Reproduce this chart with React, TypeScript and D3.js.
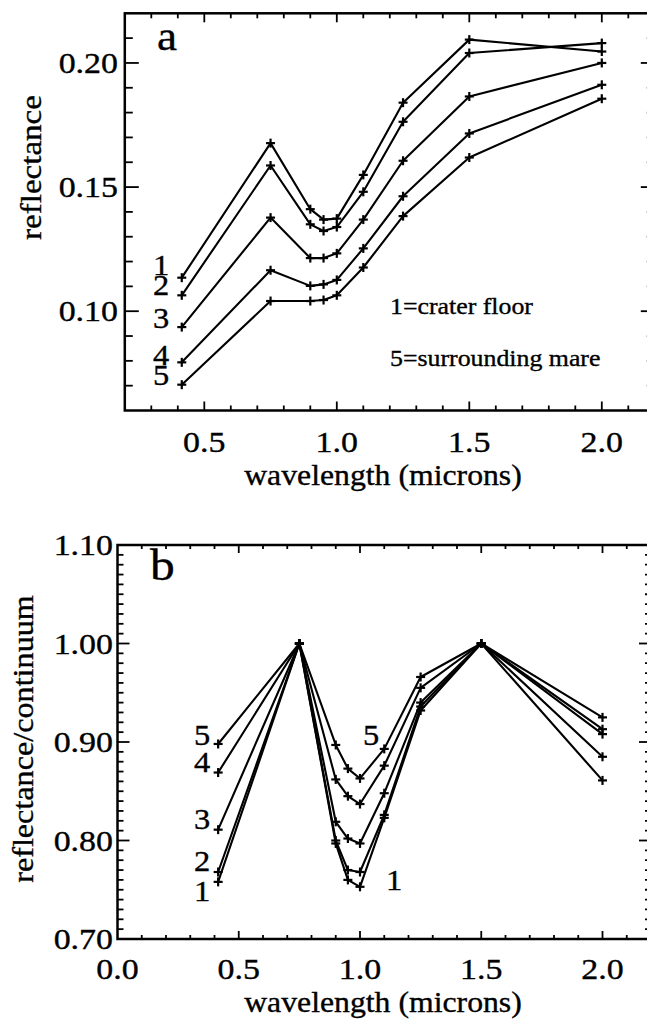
import React from "react";
import * as d3 from "d3";

// ---------- data ----------
const wavelengths = [0.415, 0.75, 0.9, 0.95, 1.0, 1.1, 1.25, 1.5, 2.0];

// panel a: reflectance
const refl1 = [0.1135, 0.1677, 0.1411, 0.1369, 0.1373, 0.1549, 0.184, 0.2094, 0.2046];
const refl2 = [0.1064, 0.1587, 0.135, 0.1323, 0.1339, 0.1481, 0.1763, 0.204, 0.208];
const refl3 = [0.0936, 0.1377, 0.1214, 0.1214, 0.1233, 0.1369, 0.1606, 0.1865, 0.2];
const refl4 = [0.0794, 0.1165, 0.1102, 0.1108, 0.1126, 0.1253, 0.1463, 0.1716, 0.1912];
const refl5 = [0.0704, 0.1041, 0.1041, 0.1045, 0.1064, 0.1176, 0.1383, 0.1619, 0.1856];

// panel b: reflectance / continuum
const cont1 = [0.758, 1.0, 0.797, 0.76, 0.753, 0.823, 0.932, 1.0, 0.861];
const cont2 = [0.768, 1.0, 0.8, 0.77, 0.768, 0.826, 0.936, 1.0, 0.885];
const cont3 = [0.811, 1.0, 0.819, 0.802, 0.797, 0.848, 0.94, 1.0, 0.908];
const cont4 = [0.869, 1.0, 0.862, 0.845, 0.837, 0.876, 0.955, 1.0, 0.913];
const cont5 = [0.898, 1.0, 0.897, 0.873, 0.863, 0.893, 0.966, 1.0, 0.925];

const seriesA = [refl1, refl2, refl3, refl4, refl5];
const seriesB = [cont1, cont2, cont3, cont4, cont5];
const seriesNames = ["1", "2", "3", "4", "5"];

const xTicksA = [0.5, 1.0, 1.5, 2.0];
const xTickLabelsA = ["0.5", "1.0", "1.5", "2.0"];
const yTicksA = [0.1, 0.15, 0.2];
const yTickLabelsA = ["0.10", "0.15", "0.20"];

const xTicksB = [0.0, 0.5, 1.0, 1.5, 2.0];
const xTickLabelsB = ["0.0", "0.5", "1.0", "1.5", "2.0"];
const yTicksB = [0.7, 0.8, 0.9, 1.0, 1.1];
const yTickLabelsB = ["0.70", "0.80", "0.90", "1.00", "1.10"];

const legendLines = ["1=crater floor", "5=surrounding mare"];

// ---------- layout ----------
const W = 647;
const H = 1024;
const FONT = "'Liberation Serif', 'Times New Roman', serif";

const xA = d3.scaleLinear().domain([0.2, 2.2]).range([124.8, 654.8]);
const yA = d3.scaleLinear().domain([0.06, 0.22]).range([410.5, 13.3]);
const xB = d3.scaleLinear().domain([0.0, 2.2]).range([117.5, 651]);
const yB = d3.scaleLinear().domain([0.7, 1.1]).range([939, 545]);

function Txt({ x, y, children, size = 29, sx = 1.12, rotate = 0, anchor = "start" }: any) {
  return (
    <text
      transform={`translate(${x},${y}) rotate(${rotate}) scale(${sx},1)`}
      fontSize={size}
      fontFamily={FONT}
      textAnchor={anchor}
      fill="#000"
      stroke="#000"
      strokeWidth={0.35}
    >
      {children}
    </text>
  );
}

function Frame({ xs, ys, xMinor, yMinor, xMajor, yMajor, xMajLen, xMinLen, yMajLen, yMinLen }: any) {
  const [x0, x1] = xs.range();
  const [y0, y1] = ys.range(); // y0 bottom, y1 top
  const els: any[] = [];
  xMinor.forEach((v: number, i: number) => {
    const major = xMajor.some((m: number) => Math.abs(m - v) < 1e-6);
    const L = major ? xMajLen : xMinLen;
    const px = xs(v);
    els.push(<line key={"xb" + i} x1={px} x2={px} y1={y0} y2={y0 - L} />);
    els.push(<line key={"xt" + i} x1={px} x2={px} y1={y1} y2={y1 + L} />);
  });
  yMinor.forEach((v: number, i: number) => {
    const major = yMajor.some((m: number) => Math.abs(m - v) < 1e-6);
    const L = major ? yMajLen : yMinLen;
    const py = ys(v);
    els.push(<line key={"yl" + i} x1={x0} x2={x0 + L} y1={py} y2={py} />);
    els.push(<line key={"yr" + i} x1={x1} x2={x1 - L} y1={py} y2={py} />);
  });
  return (
    <g stroke="#000" strokeWidth={1.8} fill="none">
      {els}
      <rect x={x0} y={y1} width={x1 - x0} height={y0 - y1} strokeWidth={2.5} />
    </g>
  );
}

function Series({ xs, ys, values }: any) {
  const pts: [number, number][] = wavelengths.map((w, i) => [xs(w), ys(values[i])]);
  const line = d3.line();
  const s = 4.5;
  return (
    <g stroke="#000" fill="none">
      <path d={line(pts) || ""} strokeWidth={2.1} strokeLinejoin="round" />
      {pts.map(([px, py], i) => (
        <g key={i} strokeWidth={2.2}>
          <line x1={px - s} x2={px + s} y1={py} y2={py} />
          <line x1={px} x2={px} y1={py - s} y2={py + s} />
        </g>
      ))}
    </g>
  );
}

export default function App() {
  const minorXA = d3.range(3, 22).map((d) => d / 10);
  const minorYA = d3.range(7, 22).map((d) => d / 100);
  const minorXB = d3.range(1, 22).map((d) => d / 10);
  const minorYB = d3.range(71, 110).map((d) => d / 100);

  const labelABase = [274.6, 295, 327.7, 364.7, 384.9];
  const labelBBase = [901, 871, 829, 772, 745];

  return (
    <svg
      width={W}
      height={H}
      viewBox={`0 0 ${W} ${H}`}
      style={{ position: "absolute", left: 0, top: 0, background: "#fff" }}
    >
      <rect x={0} y={0} width={W} height={H} fill="#fff" />

      {/* ---------- panel a ---------- */}
      <Frame
        xs={xA}
        ys={yA}
        xMinor={minorXA}
        yMinor={minorYA}
        xMajor={xTicksA}
        yMajor={yTicksA}
        xMajLen={9}
        xMinLen={5}
        yMajLen={14}
        yMinLen={8}
      />
      {seriesA.map((s, i) => (
        <Series key={i} xs={xA} ys={yA} values={s} />
      ))}
      {xTicksA.map((t, i) => (
        <Txt key={i} x={xA(t)} y={452} anchor="middle" sx={1.17}>
          {xTickLabelsA[i]}
        </Txt>
      ))}
      {yTicksA.map((t, i) => (
        <Txt key={i} x={118} y={yA(t) + 10} anchor="end" sx={1.17}>
          {yTickLabelsA[i]}
        </Txt>
      ))}
      {seriesNames.map((n, i) => (
        <Txt key={i} x={153} y={labelABase[i]} sx={1.12}>
          {n}
        </Txt>
      ))}
      <Txt x={157} y={50} size={41} sx={1.1}>a</Txt>
      <Txt x={390} y={314} size={23.5} sx={1.1}>{legendLines[0]}</Txt>
      <Txt x={390} y={366} size={23.5} sx={1.1}>{legendLines[1]}</Txt>
      <Txt x={383} y={485} anchor="middle" sx={1.095}>wavelength (microns)</Txt>
      <Txt x={41} y={167.5} anchor="middle" rotate={-90} sx={1.14}>reflectance</Txt>

      {/* ---------- panel b ---------- */}
      <Frame
        xs={xB}
        ys={yB}
        xMinor={minorXB}
        yMinor={minorYB}
        xMajor={xTicksB}
        yMajor={yTicksB}
        xMajLen={8}
        xMinLen={4}
        yMajLen={12}
        yMinLen={6}
      />
      {seriesB.map((s, i) => (
        <Series key={i} xs={xB} ys={yB} values={s} />
      ))}
      {xTicksB.map((t, i) => (
        <Txt key={i} x={xB(t)} y={979} anchor="middle" sx={1.17}>
          {xTickLabelsB[i]}
        </Txt>
      ))}
      {yTicksB.map((t, i) => (
        <Txt key={i} x={113} y={yB(t) + 10} anchor="end" sx={1.17}>
          {yTickLabelsB[i]}
        </Txt>
      ))}
      {seriesNames.map((n, i) => (
        <Txt key={i} x={194} y={labelBBase[i]} sx={1.12}>
          {n}
        </Txt>
      ))}
      <Txt x={363} y={745} sx={1.12}>5</Txt>
      <Txt x={386} y={890} sx={1.12}>1</Txt>
      <Txt x={150} y={580} size={45} sx={1.1}>b</Txt>
      <Txt x={383} y={1012} anchor="middle" sx={1.095}>wavelength (microns)</Txt>
      <Txt x={33} y={739} anchor="middle" rotate={-90} sx={1.11}>reflectance/continuum</Txt>
    </svg>
  );
}
